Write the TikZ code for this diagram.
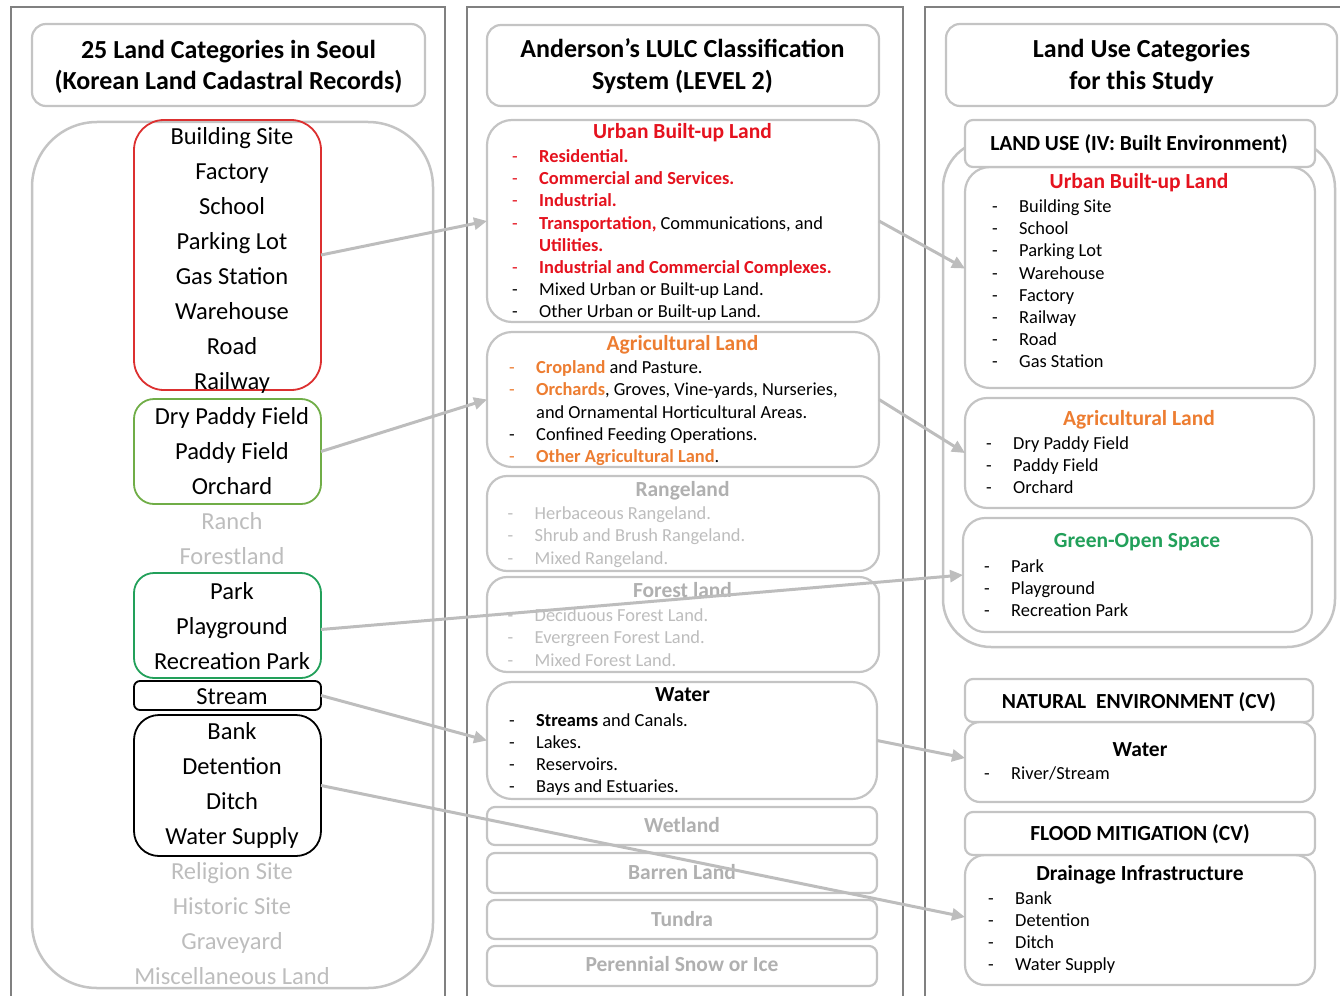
\documentclass[tikz,border=0pt]{standalone}
\usepackage{fontspec}
\setmainfont{Carlito}
\usetikzlibrary{arrows.meta}

\definecolor{framegray}{HTML}{808080}
\definecolor{boxgray}{HTML}{C4C4C4}
\definecolor{urbred}{HTML}{E5121E}
\definecolor{redline}{HTML}{DC3030}
\definecolor{agrorange}{HTML}{ED7D31}
\definecolor{olive}{HTML}{70AD47}
\definecolor{parkgreen}{HTML}{22A05A}
\definecolor{faded}{HTML}{BDBDBD}
\definecolor{fadedtitle}{HTML}{B0B0B0}
\definecolor{arrowgray}{HTML}{BDBDBD}

% list entry with a leading dash
\newcommand\bul[2][black]{\makebox[27pt][l]{\textcolor{#1}{-}}#2}
\newcommand\cont[1]{\hspace*{27pt}#1}
\newcommand\rd[1]{\textcolor{urbred}{\bfseries #1}}
\newcommand\og[1]{\textcolor{agrorange}{\bfseries #1}}
% a column of text lines: name, x, first baseline, step, entries
\newcommand\textlines[5]{%
  \foreach \t [count=\k] in {#5} {%
    \node[item, name=#1\k] at (#2, {#3+#4*(\k-1)}) {\t};
  }%
}

\begin{document}
\begin{tikzpicture}[x=1pt, y=-1pt,
  panel/.style={draw=framegray, line width=1.4pt},
  hdrbox/.style={draw=boxgray, line width=2.2pt, rounded corners=14pt, fill=white, inner sep=0pt, outer sep=0pt},
  catbox/.style={draw=boxgray, line width=2.2pt, fill=white, inner sep=0pt, outer sep=0pt},
  grpbox/.style={line width=1.8pt, inner sep=0pt, outer sep=0pt},
  item/.style={inner sep=0pt, anchor=base west, font=\fontsize{18.4}{22}\selectfont},
  ttl/.style={inner sep=0pt, anchor=base, font=\fontsize{21.5}{26}\selectfont\bfseries},
  hdrtxt/.style={inner sep=0pt, anchor=base, font=\fontsize{26}{31}\selectfont\bfseries},
  cat/.style={inner sep=0pt, anchor=base, font=\fontsize{24.5}{35}\selectfont},
  link/.style={draw=arrowgray, line width=3pt, -{Triangle[length=13pt,width=12pt]}}
]
\useasboundingbox (0,0) rectangle (1340,995);
\clip (0,0) rectangle (1340,995);

% three column panels
\draw[panel] (11,1005) -- (11,7) -- (445,7) -- (445,1005);
\draw[panel] (467,1005) -- (467,7) -- (903,7) -- (903,1005);
\draw[panel] (925,1005) -- (925,7) -- (1350,7);

% ---------- left column: cadastral categories ----------
\node[hdrbox, minimum width=393pt, minimum height=82pt] (lhdr) at (228.5,65) {};
\node[hdrtxt] (lhdr1) at (228.5,58.5) {25 Land Categories in Seoul};
\node[hdrtxt] (lhdr2) at (228.5,89.5) {(Korean Land Cadastral Records)};

\node[draw=boxgray, line width=2.5pt, rounded corners=65pt, minimum width=401pt, minimum height=866pt, inner sep=0pt, outer sep=0pt] (lall) at (232.5,555) {};

\node[grpbox, draw=redline, rounded corners=30pt, minimum width=187pt, minimum height=270pt] (lred) at (227.5,255) {};
\node[grpbox, draw=olive, rounded corners=20pt, minimum width=187pt, minimum height=105pt] (lagri) at (227.5,451.5) {};
\node[grpbox, draw=parkgreen, rounded corners=20pt, minimum width=187pt, minimum height=105pt] (lpark) at (227.5,625.5) {};
\node[grpbox, draw=black, rounded corners=6pt, minimum width=187pt, minimum height=29pt] (lstream) at (227.5,695.5) {};
\node[grpbox, draw=black, rounded corners=25pt, minimum width=187pt, minimum height=141pt] (lbank) at (227.5,785.5) {};

\foreach \nm/\cl [count=\k] in {Building Site/black, Factory/black, School/black,
  Parking Lot/black, Gas Station/black, Warehouse/black, Road/black, Railway/black,
  Dry Paddy Field/black, Paddy Field/black, Orchard/black, Ranch/faded, Forestland/faded,
  Park/black, Playground/black, Recreation Park/black, Stream/black, Bank/black,
  Detention/black, Ditch/black, Water Supply/black, Religion Site/faded,
  Historic Site/faded, Graveyard/faded, Miscellaneous Land/faded}
  \node[cat, text=\cl, name=cat\k] at (232, {144.5+35*(\k-1)}) {\nm};

% ---------- middle column: Anderson classification ----------
\node[hdrbox, minimum width=392pt, minimum height=81pt] (mhdr) at (683,65.5) {};
\node[hdrtxt] (mhdr1) at (682.5,57.5) {Anderson’s LULC Classification};
\node[hdrtxt] (mhdr2) at (682.5,90) {System (LEVEL 2)};

\node[catbox, rounded corners=25pt, minimum width=392pt, minimum height=202pt] (murban) at (683,221) {};
\node[catbox, rounded corners=25pt, minimum width=392pt, minimum height=135pt] (magri) at (683,399.5) {};
\node[catbox, rounded corners=20pt, minimum width=392pt, minimum height=95pt] (mrange) at (683,523.5) {};
\node[catbox, rounded corners=20pt, minimum width=392pt, minimum height=95pt] (mforest) at (683,624.5) {};
\node[catbox, rounded corners=25pt, minimum width=390pt, minimum height=117pt] (mwater) at (682,740.5) {};
\node[catbox, rounded corners=8pt, minimum width=390pt, minimum height=38pt] (mwet) at (682,826) {};
\node[catbox, rounded corners=8pt, minimum width=390pt, minimum height=40pt] (mbarren) at (682,873) {};
\node[catbox, rounded corners=8pt, minimum width=390pt, minimum height=39pt] (mtundra) at (682,919.5) {};
\node[catbox, rounded corners=8pt, minimum width=390pt, minimum height=40pt] (msnow) at (682,966) {};

\node[ttl, text=urbred] (murbant) at (682.5,138.5) {Urban Built-up Land};
\textlines{murbanl}{512}{163}{22}{
  {\bul[urbred]{\rd{Residential.}}},
  {\bul[urbred]{\rd{Commercial and Services.}}},
  {\bul[urbred]{\rd{Industrial.}}},
  {\bul[urbred]{\rd{Transportation,} Communications, and}},
  {\cont{\rd{Utilities.}}},
  {\bul[urbred]{\rd{Industrial and Commercial Complexes.}}},
  {\bul{Mixed Urban or Built-up Land.}},
  {\bul{Other Urban or Built-up Land.}}}

\node[ttl, text=agrorange] (magrit) at (682.5,350) {Agricultural Land};
\textlines{magril}{509}{373.5}{22.3}{
  {\bul[agrorange]{\og{Cropland} and Pasture.}},
  {\bul[agrorange]{\og{Orchards}, Groves, Vine-yards, Nurseries,}},
  {\cont{and Ornamental Horticultural Areas.}},
  {\bul{Confined Feeding Operations.}},
  {\bul[agrorange]{\og{Other Agricultural Land}.}}}

\node[ttl, text=fadedtitle] (mranget) at (682.5,496) {Rangeland};
\textlines{mrangel}{507.5}{519.3}{22.5}{
  {\textcolor{faded}{\bul[faded]{Herbaceous Rangeland.}}},
  {\textcolor{faded}{\bul[faded]{Shrub and Brush Rangeland.}}},
  {\textcolor{faded}{\bul[faded]{Mixed Rangeland.}}}}

\node[ttl, text=fadedtitle] (mforestt) at (682.5,597.3) {Forest land};
\textlines{mforestl}{507.5}{621.7}{22.2}{
  {\textcolor{faded}{\bul[faded]{Deciduous Forest Land.}}},
  {\textcolor{faded}{\bul[faded]{Evergreen Forest Land.}}},
  {\textcolor{faded}{\bul[faded]{Mixed Forest Land.}}}}

\node[ttl] (mwatert) at (682.5,701.7) {Water};
\textlines{mwaterl}{509}{726}{22.3}{
  {\bul{\textbf{Streams} and Canals.}},
  {\bul{Lakes.}},
  {\bul{Reservoirs.}},
  {\bul{Bays and Estuaries.}}}

\node[ttl, text=fadedtitle] (mwett) at (682,832.7) {Wetland};
\node[ttl, text=fadedtitle] (mbarrent) at (682,879.3) {Barren Land};
\node[ttl, text=fadedtitle] (mtundrat) at (682,926) {Tundra};
\node[ttl, text=fadedtitle] (msnowt) at (682,971.7) {Perennial Snow or Ice};

% ---------- right column: categories used in the study ----------
\node[hdrbox, minimum width=391pt, minimum height=82pt] (rhdr) at (1141.5,65) {};
\node[hdrtxt] (rhdr1) at (1141.5,57.3) {Land Use Categories};
\node[hdrtxt] (rhdr2) at (1141.5,89.3) {for this Study};

\node[draw=boxgray, line width=2.5pt, rounded corners=48pt, minimum width=392pt, minimum height=507pt, inner sep=0pt, outer sep=0pt] (rgroup) at (1139,393.5) {};

\node[catbox, rounded corners=25pt, minimum width=350pt, minimum height=221pt] (rurban) at (1140,277.5) {};
\node[catbox, rounded corners=8pt, minimum width=350pt, minimum height=47pt] (rlanduse) at (1140,143.5) {};
\node[catbox, rounded corners=22pt, minimum width=349pt, minimum height=110pt] (ragri) at (1139.5,453) {};
\node[catbox, rounded corners=22pt, minimum width=349pt, minimum height=114pt] (rgreen) at (1137.5,575) {};
\node[catbox, rounded corners=15pt, minimum width=350pt, minimum height=80pt] (rwater) at (1140,762) {};
\node[catbox, rounded corners=8pt, minimum width=348pt, minimum height=43pt] (rnat) at (1139,700.5) {};
\node[catbox, rounded corners=20pt, minimum width=350pt, minimum height=130pt] (rdrain) at (1140,920) {};
\node[catbox, rounded corners=8pt, minimum width=350pt, minimum height=43pt] (rflood) at (1140,833.5) {};

\node[ttl] (rlanduset) at (1139,150.7) {LAND USE (IV: Built Environment)};
\node[ttl, text=urbred] (rurbant) at (1139,188.3) {Urban Built-up Land};
\textlines{rurbanl}{992}{212.5}{22.2}{
  {\bul{Building Site}}, {\bul{School}}, {\bul{Parking Lot}}, {\bul{Warehouse}},
  {\bul{Factory}}, {\bul{Railway}}, {\bul{Road}}, {\bul{Gas Station}}}

\node[ttl, text=agrorange] (ragrit) at (1139,425.7) {Agricultural Land};
\textlines{ragril}{986}{449.3}{22.3}{
  {\bul{Dry Paddy Field}}, {\bul{Paddy Field}}, {\bul{Orchard}}}

\node[ttl, text=parkgreen] (rgreent) at (1137,547.7) {Green-Open Space};
\textlines{rgreenl}{984}{572}{22}{
  {\bul{Park}}, {\bul{Playground}}, {\bul{Recreation Park}}}

\node[ttl] (rnatt) at (1139,708.3) {NATURAL\ \ ENVIRONMENT (CV)};
\node[ttl] (rwatert) at (1140,756) {Water};
\textlines{rwaterl}{984}{779.3}{22}{{\bul{River/Stream}}}

\node[ttl] (rfloodt) at (1140,840) {FLOOD MITIGATION (CV)};
\node[ttl] (rdraint) at (1140,880) {Drainage Infrastructure};
\textlines{rdrainl}{988}{904.3}{22.2}{
  {\bul{Bank}}, {\bul{Detention}}, {\bul{Ditch}}, {\bul{Water Supply}}}

% ---------- connectors ----------
\draw[link] (lred.east) -- (murban.west);
\draw[link] (lagri.east) -- (magri.west);
\draw[link] ([yshift=-4pt]lpark.east) -- (rgreen.west);
\draw[link] (lstream.east) -- (mwater.west);
\draw[link] (lbank.east) -- ([yshift=3pt]rdrain.west);
\draw[link] (murban.east) -- ([yshift=9pt]rurban.west);
\draw[link] (magri.east) -- (ragri.west);
\draw[link] (mwater.east) -- ([yshift=4pt]rwater.west);
\end{tikzpicture}
\end{document}
